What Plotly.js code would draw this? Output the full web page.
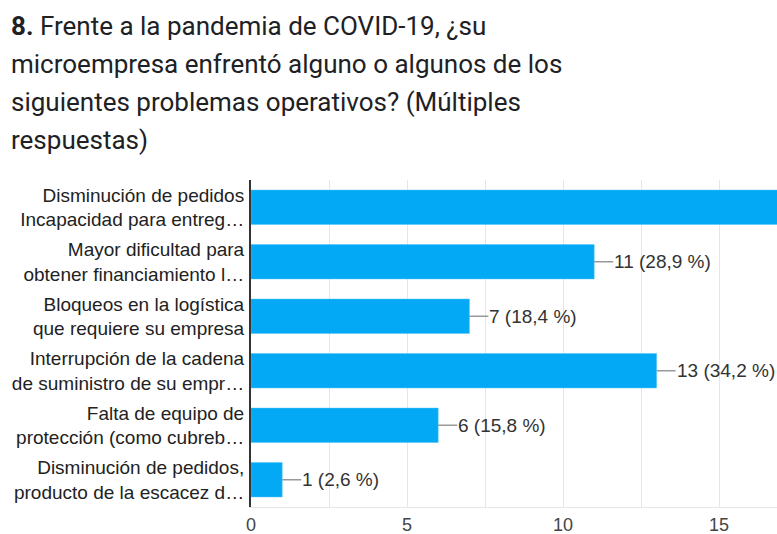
<!DOCTYPE html>
<html>
<head>
<meta charset="utf-8">
<script src="https://cdn.plot.ly/plotly-3.0.1.min.js"></script>
<style>html,body{margin:0;padding:0;background:#fff;}#chart{width:777px;height:534px;}</style>
</head>
<body>
<div id="chart"></div>
<script>
const categories = [
  "Disminución de pedidos<br>Incapacidad para entreg…",
  "Mayor dificultad para<br>obtener financiamiento l…",
  "Bloqueos en la logística<br>que requiere su empresa",
  "Interrupción de la cadena<br>de suministro de su empr…",
  "Falta de equipo de<br>protección (como cubreb…",
  "Disminución de pedidos,<br>producto de la escacez d…"
];
const values = [25, 11, 7, 13, 6, 1];
const valueLabels = ["25 (65,8 %)", "11 (28,9 %)", "7 (18,4 %)", "13 (34,2 %)", "6 (15,8 %)", "1 (2,6 %)"];
const xTickVals = [0, 5, 10, 15];
const xTickText = ["0", "5", "10", "15"];
const titleLines = [
  "<b>8.</b> Frente a la pandemia de COVID-19, ¿su",
  "microempresa enfrentó alguno o algunos de los",
  "siguientes problemas operativos? (Múltiples",
  "respuestas)"
];

const W = 777, H = 534;
const M = {l: 251, r: 0, t: 180, b: 27};
const plotH = H - M.t - M.b;
const py2paper = py => 1 - (py - M.t) / plotH;
const px2paper = px => (px - M.l) / (W - M.l - M.r);
const xMax = (W - M.l - M.r) / 31.2;

const titleY = [26, 64, 102, 140];
const annotations = [];
titleLines.forEach((t, i) => {
  annotations.push({
    text: t, xref: 'paper', yref: 'paper', x: px2paper(9), y: py2paper(titleY[i]),
    xanchor: 'left', yanchor: 'middle', showarrow: false,
    font: {family: 'Roboto, sans-serif', size: 26, color: '#202124'}
  });
});
values.forEach((v, i) => {
  if (v < xMax) {
    annotations.push({
      text: valueLabels[i], x: v, y: categories[i], xref: 'x', yref: 'y',
      showarrow: true, arrowhead: 0, arrowwidth: 1.5, arrowcolor: '#999999',
      ax: 19, ay: 0, xanchor: 'left', yanchor: 'middle', standoff: 0, borderpad: 0,
      font: {family: 'Liberation Sans, Arial, sans-serif', size: 19, color: '#333333'}
    });
  }
});

const data = [{
  type: 'bar', orientation: 'h', x: values, y: categories,
  marker: {color: '#03a9f4', line: {color: '#4fc3f7', width: 0.5}},
  hoverinfo: 'none', cliponaxis: true
}];

const layout = {
  width: W, height: H,
  margin: M,
  paper_bgcolor: '#ffffff', plot_bgcolor: '#ffffff',
  showlegend: false,
  bargap: 0.37,
  font: {family: 'Liberation Sans, Arial, sans-serif', color: '#222222'},
  xaxis: {
    range: [0, xMax], tickvals: xTickVals, ticktext: xTickText,
    showgrid: true, gridcolor: '#e6e6e6', gridwidth: 1,
    minor: {dtick: 2.5, showgrid: true, gridcolor: '#e6e6e6', gridwidth: 1},
    zeroline: false, showline: true, linecolor: '#e6e6e6', linewidth: 1,
    ticks: '', tickfont: {size: 18, color: '#444444'}, ticklabelstandoff: 1,
    fixedrange: true
  },
  yaxis: {
    autorange: 'reversed', showgrid: false, zeroline: false,
    showline: true, linecolor: '#333333', linewidth: 2,
    ticks: '', ticklabelstandoff: 1,
    tickfont: {size: 19, color: '#222222'},
    fixedrange: true
  },
  annotations: annotations
};

Plotly.newPlot('chart', data, layout, {staticPlot: true, displayModeBar: false});
</script>
</body>
</html>
